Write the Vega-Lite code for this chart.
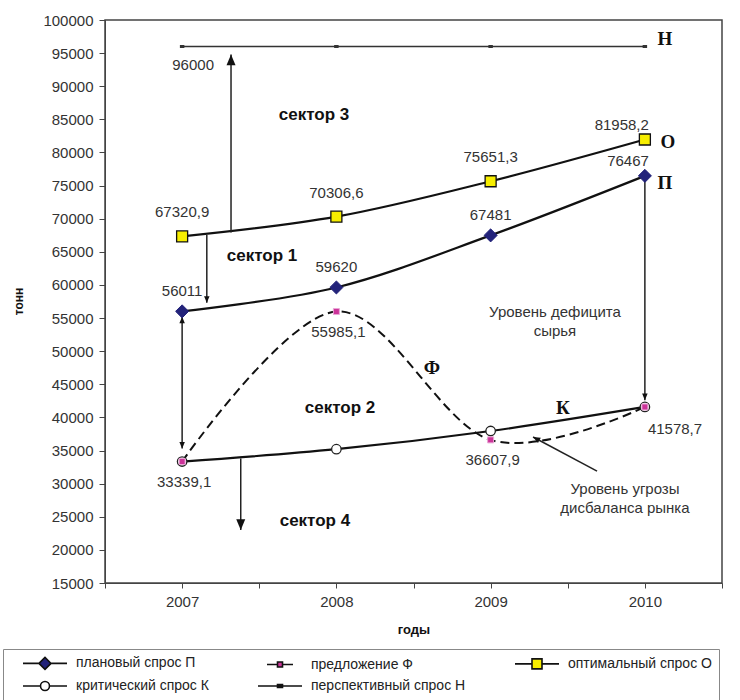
{
  "$schema": "https://vega.github.io/schema/vega-lite/v6.json",
  "width": 617,
  "height": 563,
  "autosize": {"type": "none"},
  "padding": {"left": 105, "top": 20, "right": 18, "bottom": 117},
  "background": "white",
  "config": {
    "font": "Liberation Sans",
    "view": {"stroke": "#444", "strokeWidth": 1.5},
    "axis": {"grid": false, "domainColor": "#444", "tickColor": "#444", "labelColor": "#333", "titleColor": "#111"}
  },
  "datasets": {
    "series": [
      {"series": "плановый спрос П", "year": 2007, "value": 56011, "label": "56011"},
      {"series": "плановый спрос П", "year": 2008, "value": 59620, "label": "59620"},
      {"series": "плановый спрос П", "year": 2009, "value": 67481, "label": "67481"},
      {"series": "плановый спрос П", "year": 2010, "value": 76467, "label": "76467"},
      {"series": "предложение Ф", "year": 2007, "value": 33339.1, "label": "33339,1"},
      {"series": "предложение Ф", "year": 2008, "value": 55985.1, "label": "55985,1"},
      {"series": "предложение Ф", "year": 2009, "value": 36607.9, "label": "36607,9"},
      {"series": "предложение Ф", "year": 2010, "value": 41578.7, "label": "41578,7"},
      {"series": "оптимальный спрос О", "year": 2007, "value": 67320.9, "label": "67320,9"},
      {"series": "оптимальный спрос О", "year": 2008, "value": 70306.6, "label": "70306,6"},
      {"series": "оптимальный спрос О", "year": 2009, "value": 75651.3, "label": "75651,3"},
      {"series": "оптимальный спрос О", "year": 2010, "value": 81958.2, "label": "81958,2"},
      {"series": "критический спрос К", "year": 2007, "value": 33339.1, "label": ""},
      {"series": "критический спрос К", "year": 2008, "value": 35200, "label": ""},
      {"series": "критический спрос К", "year": 2009, "value": 37950, "label": ""},
      {"series": "критический спрос К", "year": 2010, "value": 41578.7, "label": ""},
      {"series": "перспективный спрос Н", "year": 2007, "value": 96000, "label": "96000"},
      {"series": "перспективный спрос Н", "year": 2008, "value": 96000, "label": ""},
      {"series": "перспективный спрос Н", "year": 2009, "value": 96000, "label": ""},
      {"series": "перспективный спрос Н", "year": 2010, "value": 96000, "label": ""}
    ],
    "arrows": [
      {"id": "a1", "x1": 2007.317, "y1": 67900, "x2": 2007.317, "y2": 94800},
      {"id": "a2", "x1": 2007.16, "y1": 67550, "x2": 2007.16, "y2": 57300},
      {"id": "a3", "x1": 2007, "y1": 35300, "x2": 2007, "y2": 55200},
      {"id": "a4", "x1": 2007.38, "y1": 33800, "x2": 2007.38, "y2": 23000},
      {"id": "a5", "x1": 2010, "y1": 76467, "x2": 2010, "y2": 42600},
      {"id": "a6", "x1": 2009.69, "y1": 31900, "x2": 2009.275, "y2": 37040}
    ],
    "sectors": [
      {"t": "сектор 3", "x": 2007.855, "y": 85657},
      {"t": "сектор 1", "x": 2007.518, "y": 64370},
      {"t": "сектор 2", "x": 2008.024, "y": 41421},
      {"t": "сектор 4", "x": 2007.861, "y": 24360}
    ],
    "letters": [
      {"t": "Н", "x": 2010.13, "y": 97100},
      {"t": "О", "x": 2010.15, "y": 81581},
      {"t": "П", "x": 2010.13, "y": 75391},
      {"t": "Ф", "x": 2008.62, "y": 47460},
      {"t": "К", "x": 2009.469, "y": 41421}
    ],
    "captions": [
      {"t": "Уровень дефицита\nсырья", "x": 2009.417, "y": 55990},
      {"t": "Уровень угрозы\nдисбаланса рынка", "x": 2009.871, "y": 29191}
    ]
  },
  "encoding": {
    "x": {"field": "year", "type": "quantitative",
      "scale": {"domain": [2006.5, 2010.5], "nice": false, "zero": false},
      "axis": {"values": [2006.5, 2007, 2007.5, 2008, 2008.5, 2009, 2009.5, 2010, 2010.5],
        "labelExpr": "datum.value % 1 == 0 ? format(datum.value, 'd') : ''",
        "labelFontSize": 15, "labelPadding": 6, "tickSize": 5, "labelOverlap": false, "labelFlush": false,
        "title": "годы", "titleFontSize": 13, "titleFontWeight": "bold", "titlePadding": 14}},
    "y": {"field": "value", "type": "quantitative",
      "scale": {"domain": [15000, 100000], "nice": false, "zero": false},
      "axis": {"values": [15000, 20000, 25000, 30000, 35000, 40000, 45000, 50000, 55000, 60000, 65000, 70000, 75000, 80000, 85000, 90000, 95000, 100000],
        "format": "d", "labelFontSize": 15, "labelPadding": 6, "tickSize": 6, "labelOverlap": false,
        "title": "тонн", "titleFontSize": 12, "titleFontWeight": "bold",
        "titleX": -87, "titleY": 281, "titleAngle": 270, "titleAlign": "center", "titleBaseline": "middle"}}
  },
  "layer": [
    {"data": {"name": "series"}, "transform": [{"filter": "datum.series == 'перспективный спрос Н'"}],
      "mark": {"type": "line", "color": "#333", "strokeWidth": 1.5}},
    {"data": {"name": "series"}, "transform": [{"filter": "datum.series == 'предложение Ф'"}],
      "mark": {"type": "line", "color": "#111", "strokeWidth": 2, "strokeDash": [9, 5], "interpolate": "cardinal", "tension": 0}},
    {"data": {"name": "series"}, "transform": [{"filter": "datum.series == 'плановый спрос П' || datum.series == 'оптимальный спрос О' || datum.series == 'критический спрос К'"}],
      "mark": {"type": "line", "color": "#111", "strokeWidth": 2.2, "interpolate": "cardinal", "tension": 0},
      "encoding": {"detail": {"field": "series"}}},
    {"data": {"name": "arrows"}, "mark": {"type": "rule", "color": "#222", "strokeWidth": 1.5},
      "encoding": {"x": {"field": "x1", "type": "quantitative"}, "y": {"field": "y1", "type": "quantitative"},
        "x2": {"field": "x2"}, "y2": {"field": "y2"}}},
    {"data": {"name": "arrows"}, "transform": [{"filter": "datum.id == 'a1'"}],
      "mark": {"type": "point", "shape": "M0,0L-1,2.4L1,2.4Z", "size": 81, "filled": true, "color": "#111", "opacity": 1},
      "encoding": {"x": {"field": "x2", "type": "quantitative"}, "y": {"field": "y2", "type": "quantitative"}}},
    {"data": {"name": "arrows"}, "transform": [{"filter": "datum.id == 'a4'"}],
      "mark": {"type": "point", "shape": "M0,0L-1,-2.4L1,-2.4Z", "size": 81, "filled": true, "color": "#111", "opacity": 1},
      "encoding": {"x": {"field": "x2", "type": "quantitative"}, "y": {"field": "y2", "type": "quantitative"}}},
    {"data": {"name": "arrows"}, "transform": [{"filter": "datum.id == 'a3'"}],
      "mark": {"type": "point", "shape": "M0,0L-1,2.4L1,2.4Z", "size": 30, "filled": true, "color": "#111", "opacity": 1},
      "encoding": {"x": {"field": "x2", "type": "quantitative"}, "y": {"field": "y2", "type": "quantitative"}}},
    {"data": {"name": "arrows"}, "transform": [{"filter": "datum.id == 'a3'"}],
      "mark": {"type": "point", "shape": "M0,0L-1,-2.4L1,-2.4Z", "size": 30, "filled": true, "color": "#111", "opacity": 1},
      "encoding": {"x": {"field": "x1", "type": "quantitative"}, "y": {"field": "y1", "type": "quantitative"}}},
    {"data": {"name": "arrows"}, "transform": [{"filter": "datum.id == 'a2' || datum.id == 'a5'"}],
      "mark": {"type": "point", "shape": "M0,0L-1,-2.4L1,-2.4Z", "size": 30, "filled": true, "color": "#111", "opacity": 1},
      "encoding": {"x": {"field": "x2", "type": "quantitative"}, "y": {"field": "y2", "type": "quantitative"}}},
    {"data": {"name": "arrows"}, "transform": [{"filter": "datum.id == 'a6'"}],
      "mark": {"type": "point", "shape": "M0,0L-1,2.4L1,2.4Z", "size": 36, "angle": 298, "filled": true, "color": "#111", "opacity": 1},
      "encoding": {"x": {"field": "x2", "type": "quantitative"}, "y": {"field": "y2", "type": "quantitative"}}},
    {"data": {"name": "series"}, "transform": [{"filter": "datum.series == 'перспективный спрос Н'"}],
      "mark": {"type": "point", "shape": "M-1,0H1", "size": 20, "stroke": "#333", "strokeWidth": 3, "opacity": 1}},
    {"data": {"name": "series"}, "transform": [{"filter": "datum.series == 'критический спрос К'"}],
      "mark": {"type": "point", "shape": "circle", "size": 90, "fill": "white", "stroke": "#222", "strokeWidth": 1.3, "opacity": 1}},
    {"data": {"name": "series"}, "transform": [{"filter": "datum.series == 'предложение Ф'"}],
      "mark": {"type": "point", "shape": "square", "size": 36, "fill": "#CC3399", "stroke": "#E9A6D6", "strokeWidth": 1, "opacity": 1}},
    {"data": {"name": "series"}, "transform": [{"filter": "datum.series == 'оптимальный спрос О'"}],
      "mark": {"type": "point", "shape": "square", "size": 121, "fill": "#F7EE00", "stroke": "#111", "strokeWidth": 1.3, "opacity": 1}},
    {"data": {"name": "series"}, "transform": [{"filter": "datum.series == 'плановый спрос П'"}],
      "mark": {"type": "point", "shape": "diamond", "size": 170, "fill": "#23237A", "stroke": "#23237A", "strokeWidth": 1, "opacity": 1}},
    {"data": {"name": "series"}, "transform": [{"filter": "datum.series == 'плановый спрос П' && datum.year < 2010"}],
      "mark": {"type": "text", "fontSize": 15, "color": "#333", "align": "center", "baseline": "middle", "dy": -20},
      "encoding": {"text": {"field": "label"}}},
    {"data": {"name": "series"}, "transform": [{"filter": "datum.series == 'оптимальный спрос О' && datum.year < 2010"}],
      "mark": {"type": "text", "fontSize": 15, "color": "#333", "align": "center", "baseline": "middle", "dy": -24},
      "encoding": {"text": {"field": "label"}}},
    {"data": {"name": "series"}, "transform": [{"filter": "(datum.series == 'плановый спрос П' || datum.series == 'оптимальный спрос О') && datum.year == 2010"}],
      "mark": {"type": "text", "fontSize": 15, "color": "#333", "align": "right", "baseline": "middle", "dx": 4, "dy": -15},
      "encoding": {"text": {"field": "label"}}},
    {"data": {"name": "series"}, "transform": [{"filter": "datum.series == 'предложение Ф' && datum.year < 2010"}],
      "mark": {"type": "text", "fontSize": 15, "color": "#333", "align": "center", "baseline": "middle", "dx": 2, "dy": 20},
      "encoding": {"text": {"field": "label"}}},
    {"data": {"name": "series"}, "transform": [{"filter": "datum.series == 'предложение Ф' && datum.year == 2010"}],
      "mark": {"type": "text", "fontSize": 15, "color": "#333", "align": "left", "baseline": "middle", "dx": 3, "dy": 22},
      "encoding": {"text": {"field": "label"}}},
    {"data": {"name": "series"}, "transform": [{"filter": "datum.series == 'перспективный спрос Н' && datum.year == 2007"}],
      "mark": {"type": "text", "fontSize": 15, "color": "#333", "align": "center", "baseline": "middle", "dx": 11, "dy": 19},
      "encoding": {"text": {"field": "label"}}},
    {"data": {"name": "sectors"}, "mark": {"type": "text", "fontSize": 17, "fontWeight": "bold", "color": "#111", "align": "center", "baseline": "middle"},
      "encoding": {"x": {"field": "x", "type": "quantitative"}, "y": {"field": "y", "type": "quantitative"}, "text": {"field": "t"}}},
    {"data": {"name": "letters"}, "mark": {"type": "text", "font": "Liberation Serif", "fontSize": 19, "fontWeight": "bold", "color": "#111", "align": "center", "baseline": "middle"},
      "encoding": {"x": {"field": "x", "type": "quantitative"}, "y": {"field": "y", "type": "quantitative"}, "text": {"field": "t"}}},
    {"data": {"name": "captions"}, "mark": {"type": "text", "fontSize": 15, "color": "#333", "align": "center", "baseline": "middle", "lineBreak": "\n", "lineHeight": 19},
      "encoding": {"x": {"field": "x", "type": "quantitative"}, "y": {"field": "y", "type": "quantitative"}, "text": {"field": "t"}}},
    {"data": {"name": "series"}, "transform": [{"filter": "false"}],
      "mark": {"type": "point", "stroke": "#111", "strokeWidth": 1.6, "opacity": 1},
      "encoding": {
        "fill": {"field": "series", "type": "nominal",
          "scale": {"domain": ["плановый спрос П", "критический спрос К", "предложение Ф", "перспективный спрос Н", "оптимальный спрос О"],
            "range": ["#23237A", "#FFFFFF", "#CC3399", "#333333", "#F7EE00"]},
          "legend": {"title": null, "orient": "none", "legendX": -102, "legendY": 629, "columns": 3, "gridAlign": "each",
            "columnPadding": 36, "rowPadding": 5, "padding": 7, "strokeColor": "#888", "fillColor": "white",
            "labelFontSize": 14, "labelColor": "#222", "symbolSize": 100, "symbolOffset": 28, "labelOffset": 24, "symbolOpacity": 1, "symbolStrokeWidth": 1.6}},
        "shape": {"field": "series", "type": "nominal",
          "scale": {"domain": ["плановый спрос П", "критический спрос К", "предложение Ф", "перспективный спрос Н", "оптимальный спрос О"],
            "range": [
              "M-4.4,0H-1.2M1.2,0H4.4M-1.2,0L0,-1.2L1.2,0L0,1.2Z",
              "M-4.4,0H-0.9M0.9,0H4.4M-0.9,0A0.9,0.9 0 1,0 0.9,0A0.9,0.9 0 1,0 -0.9,0Z",
              "M-2.6,0H-0.5M0.5,0H2.6M-0.5,-0.5H0.5V0.5H-0.5Z",
              "M-4.4,0H4.4M-0.5,-0.3H0.5V0.3H-0.5Z",
              "M-4.4,0H-1M1,0H4.4M-1,-1H1V1H-1Z"
            ]},
          "legend": {"title": null, "orient": "none", "legendX": -102, "legendY": 629, "columns": 3, "gridAlign": "each",
            "columnPadding": 36, "rowPadding": 5, "padding": 7, "strokeColor": "#888", "fillColor": "white",
            "labelFontSize": 14, "labelColor": "#222", "symbolSize": 100, "symbolOffset": 28, "labelOffset": 24, "symbolOpacity": 1, "symbolStrokeWidth": 1.6}}
      }}
  ]
}
